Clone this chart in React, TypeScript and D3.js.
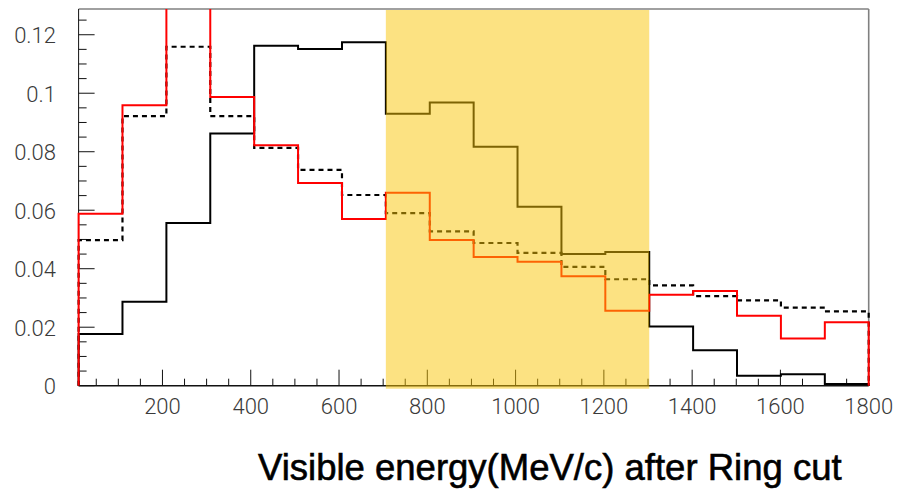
import React, { useEffect, useRef } from "react";
import * as d3 from "d3";

// Histogram bin edges (MeV/c), 18 bins spanning 10..1800
const binEdges = [
  10, 109.4, 208.9, 308.3, 407.8, 507.2, 606.7, 706.1, 805.6, 905, 1004.4,
  1103.9, 1203.3, 1302.8, 1402.2, 1501.7, 1601.1, 1700.6, 1800,
];

// Normalised bin contents for each sample
const solidBlack = [
  0.0177, 0.0287, 0.0556, 0.0862, 0.1162, 0.1151, 0.1174, 0.093, 0.0968,
  0.0817, 0.0612, 0.045, 0.0457, 0.0202, 0.0121, 0.0034, 0.0039, 0.0006,
];
const dashedBlack = [
  0.0498, 0.0922, 0.1159, 0.0922, 0.0813, 0.0738, 0.0652, 0.059, 0.0528,
  0.0488, 0.0454, 0.0406, 0.0364, 0.0343, 0.0306, 0.0292, 0.0267, 0.0254,
];
const solidRed = [
  0.0588, 0.0959, 0.14, 0.0987, 0.0822, 0.0693, 0.057, 0.066, 0.0498, 0.044,
  0.0424, 0.0374, 0.0256, 0.0311, 0.0324, 0.0239, 0.0161, 0.0217,
];

// Highlighted energy window
const windowRange = [706.1, 1302.8];

// Axis ticks
const yMajorTicks = [0, 0.02, 0.04, 0.06, 0.08, 0.1, 0.12];
const yTickLabels = ["0", "0.02", "0.04", "0.06", "0.08", "0.1", "0.12"];
const xMajorTicks = [200, 400, 600, 800, 1000, 1200, 1400, 1600, 1800];
const xTickLabels = ["200", "400", "600", "800", "1000", "1200", "1400", "1600", "1800"];

const titleText = "Visible energy(MeV/c) after Ring cut";

const W = 898;
const H = 489;
const left = 78.6;
const right = 868.7;
const top = 9;
const bottom = 385.7;

export default function App() {
  const ref = useRef<SVGSVGElement | null>(null);

  useEffect(() => {
    const svg = d3.select(ref.current);
    svg.selectAll("*").remove();

    const x = d3.scaleLinear().domain([10, 1800]).range([left, right]);
    const y = d3.scaleLinear().domain([0, 0.1288]).range([bottom, top]);

    const defs = svg.append("defs");
    defs
      .append("clipPath")
      .attr("id", "plotClip")
      .append("rect")
      .attr("x", left - 2)
      .attr("y", top)
      .attr("width", right - left + 4)
      .attr("height", bottom - top + 3);

    // gray frame (top and right)
    svg
      .append("line")
      .attr("x1", left)
      .attr("x2", right)
      .attr("y1", top)
      .attr("y2", top)
      .attr("stroke", "#808080")
      .attr("stroke-width", 1.6);
    svg
      .append("line")
      .attr("x1", right)
      .attr("x2", right)
      .attr("y1", top)
      .attr("y2", bottom)
      .attr("stroke", "#808080")
      .attr("stroke-width", 1.6);

    // axes
    const axisG = svg.append("g");
    axisG
      .append("line")
      .attr("x1", left)
      .attr("x2", left)
      .attr("y1", top)
      .attr("y2", bottom)
      .attr("stroke", "#111")
      .attr("stroke-width", 1);
    axisG
      .append("line")
      .attr("x1", left)
      .attr("x2", right)
      .attr("y1", bottom)
      .attr("y2", bottom)
      .attr("stroke", "#111")
      .attr("stroke-width", 1.4);

    const yMinor = d3.range(0, 0.1251, 0.005);
    axisG
      .selectAll(".ytick")
      .data(yMinor)
      .join("line")
      .attr("x1", left)
      .attr("x2", (d) =>
        yMajorTicks.some((t) => Math.abs(t - d) < 1e-6) ? left + 16 : left + 8
      )
      .attr("y1", (d) => y(d))
      .attr("y2", (d) => y(d))
      .attr("stroke", "#111")
      .attr("stroke-width", 1);

    const xMinor = d3.range(50, 1751, 50);
    axisG
      .selectAll(".xtick")
      .data(xMinor)
      .join("line")
      .attr("x1", (d) => x(d))
      .attr("x2", (d) => x(d))
      .attr("y1", bottom)
      .attr("y2", (d) => (d % 200 === 0 ? bottom - 16 : bottom - 7))
      .attr("stroke", "#111")
      .attr("stroke-width", 1);

    const tickFont = "Roboto, 'Liberation Sans', Arial, sans-serif";
    svg
      .append("g")
      .selectAll("text")
      .data(yMajorTicks)
      .join("text")
      .attr("x", 56)
      .attr("y", (d) => y(d) + 8.5)
      .attr("text-anchor", "end")
      .attr("font-family", tickFont)
      .attr("font-weight", 300)
      .attr("font-size", 22)
      .attr("fill", "#3a3a3a")
      .text((_, i) => yTickLabels[i]);

    svg
      .append("g")
      .selectAll("text")
      .data(xMajorTicks)
      .join("text")
      .attr("x", (d) => x(d))
      .attr("y", 414)
      .attr("text-anchor", "middle")
      .attr("font-family", tickFont)
      .attr("font-weight", 300)
      .attr("font-size", 22)
      .attr("fill", "#3a3a3a")
      .text((_, i) => xTickLabels[i]);

    // histogram step paths
    const stepPoints = (vals: number[]) => {
      const pts: [number, number][] = [[binEdges[0], 0]];
      vals.forEach((v, i) => pts.push([binEdges[i], v]));
      pts.push([binEdges[binEdges.length - 1], vals[vals.length - 1]]);
      pts.push([binEdges[binEdges.length - 1], 0]);
      return pts;
    };
    const line = d3
      .line<[number, number]>()
      .x((d) => x(d[0]))
      .y((d) => y(d[1]))
      .curve(d3.curveStepAfter);

    const plotG = svg.append("g").attr("clip-path", "url(#plotClip)");
    plotG
      .append("path")
      .attr("d", line(stepPoints(solidBlack)))
      .attr("fill", "none")
      .attr("stroke", "#000")
      .attr("stroke-width", 2);
    plotG
      .append("path")
      .attr("d", line(stepPoints(dashedBlack)))
      .attr("fill", "none")
      .attr("stroke", "#000")
      .attr("stroke-width", 2.2)
      .attr("stroke-dasharray", "5 4");
    plotG
      .append("path")
      .attr("d", line(stepPoints(solidRed)))
      .attr("fill", "none")
      .attr("stroke", "#ff0000")
      .attr("stroke-width", 2);

    // translucent highlight window over the data
    svg
      .append("rect")
      .attr("x", x(windowRange[0]))
      .attr("y", top + 1)
      .attr("width", x(windowRange[1]) - x(windowRange[0]))
      .attr("height", bottom - top + 2)
      .attr("fill", "rgb(249,198,6)")
      .attr("fill-opacity", 0.5);

    // title
    svg
      .append("text")
      .attr("x", 258)
      .attr("y", 480)
      .attr("font-family", "'Liberation Sans', Arial, sans-serif")
      .attr("font-size", 36.5)
      .attr("fill", "#000")
      .attr("stroke", "#000")
      .attr("stroke-width", 0.6)
      .text(titleText);
  }, []);

  return (
    <svg
      ref={ref}
      width={W}
      height={H}
      style={{ position: "absolute", left: 0, top: 0, background: "#fff" }}
    />
  );
}
